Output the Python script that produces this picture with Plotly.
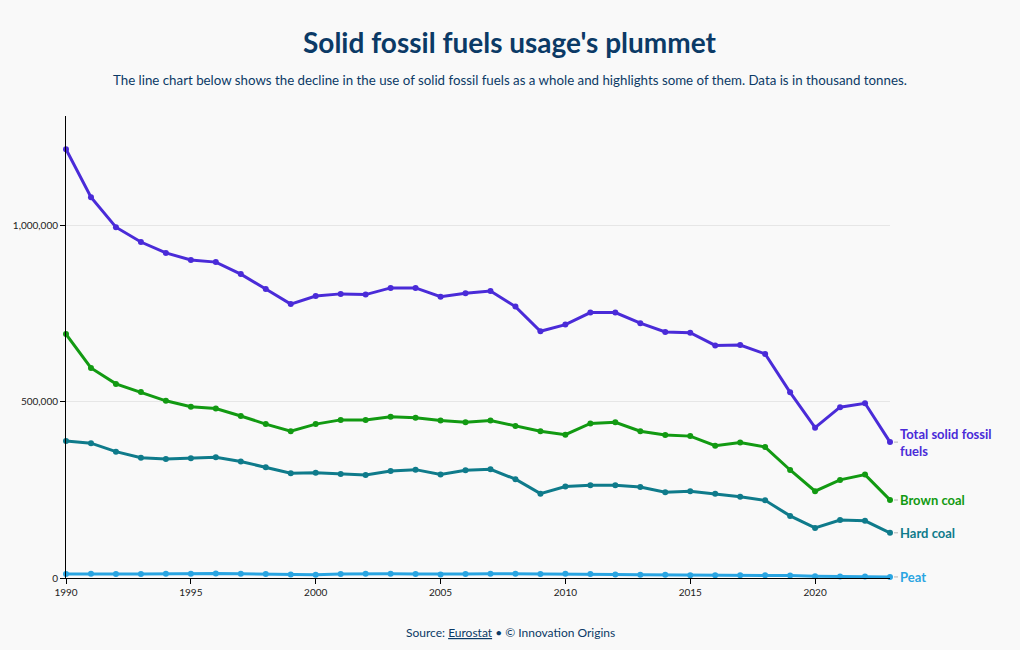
import plotly.graph_objects as go

years = list(range(1990, 2024))

total = [1215, 1079, 994, 952, 921, 901, 895, 861, 819, 776, 799, 805, 803, 822, 822, 797,
         807, 813, 769, 699, 718, 752, 752, 722, 697, 695, 659, 660, 635, 526, 426, 484, 495, 385]
brown = [691, 595, 550, 527, 502, 485, 480, 459, 436, 416, 436, 448, 448, 457, 454, 446,
         441, 446, 431, 416, 406, 438, 441, 416, 405, 402, 375, 384, 371, 306, 246, 278, 293, 221]
hard = [388, 382, 358, 341, 337, 339, 342, 330, 314, 297, 298, 295, 292, 303, 307, 293,
        305, 308, 280, 239, 259, 263, 263, 258, 243, 246, 239, 230, 220, 176, 142, 164, 162, 128]
peat = [11, 12, 11, 11, 12, 12, 13, 12, 11, 10, 9, 11, 12, 12, 11, 10,
        11, 12, 12, 11, 12, 11, 10, 9, 9, 8, 8, 8, 8, 7, 5, 4, 4, 3]

series_names = ["Total solid fossil fuels", "Brown coal", "Hard coal", "Peat"]
label_texts = ["Total solid fossil<br>fuels", "Brown coal", "Hard coal", "Peat"]
series_values = [total, brown, hard, peat]
colors = ["#4a2bd8", "#129a12", "#0f7b8b", "#2aa5e2"]
x_ticks = [1990, 1995, 2000, 2005, 2010, 2015, 2020]
y_ticks = [0, 500000, 1000000]

FONT = "Source Sans Pro, Lato, sans-serif"
NAVY = "#0b3a66"
PAGE_CENTER = 0.539  # page centre in paper coordinates

fig = go.Figure()
for name, vals, col in zip(series_names, series_values, colors):
    fig.add_trace(go.Scatter(
        x=years, y=[v * 1000 for v in vals], name=name, mode="lines+markers",
        line=dict(color=col, width=3), marker=dict(color=col, size=6),
        showlegend=False, cliponaxis=False,
    ))

for text, vals, col in zip(label_texts, series_values, colors):
    fig.add_annotation(
        x=years[-1], y=vals[-1] * 1000, text="<b>" + text + "</b>",
        showarrow=True, arrowhead=0, arrowcolor="#b5b5b5", arrowwidth=1,
        ax=8, ay=0, axref="pixel", ayref="pixel", standoff=4,
        xanchor="left", yanchor="middle", align="left",
        font=dict(family=FONT, size=13, color=col),
    )

fig.add_annotation(
    x=PAGE_CENTER, y=1.160, xref="paper", yref="paper", showarrow=False,
    xanchor="center", yanchor="middle",
    text="<b>Solid fossil fuels usage's plummet</b>",
    font=dict(family=FONT, size=28, color=NAVY),
)
fig.add_annotation(
    x=PAGE_CENTER, y=1.078, xref="paper", yref="paper", showarrow=False,
    xanchor="center", yanchor="middle",
    text="The line chart below shows the decline in the use of solid fossil fuels as a whole and highlights some of them. Data is in thousand tonnes.",
    font=dict(family=FONT, size=13.3, color=NAVY),
)
fig.add_annotation(
    x=PAGE_CENTER, y=-0.117, xref="paper", yref="paper", showarrow=False,
    xanchor="center", yanchor="middle",
    text="Source: <a href='https://ec.europa.eu/eurostat' style='color:" + NAVY + "'><u>Eurostat</u></a> • © Innovation Origins",
    font=dict(family=FONT, size=12, color=NAVY),
)

fig.update_layout(
    width=1020, height=650,
    paper_bgcolor="#f9f9f9", plot_bgcolor="#f9f9f9",
    margin=dict(l=66, r=130, t=116, b=72),
    font=dict(family=FONT, size=11, color="#222"),
    xaxis=dict(
        range=[1990, 2023], tickmode="array", tickvals=x_ticks,
        showgrid=False, showline=True, linecolor="#000", linewidth=1,
        ticks="outside", ticklen=5, tickcolor="#000", zeroline=False,
        tickfont=dict(size=10, color="#222"),
    ),
    yaxis=dict(
        range=[0, 1309000], tickmode="array", tickvals=y_ticks, tickformat=",",
        showgrid=True, gridcolor="#e6e6e6", gridwidth=1,
        showline=True, linecolor="#000", linewidth=1,
        ticks="outside", ticklen=5, tickcolor="#000", zeroline=False,
        tickfont=dict(size=10, color="#222"),
    ),
)

fig.write_html("out.html")
